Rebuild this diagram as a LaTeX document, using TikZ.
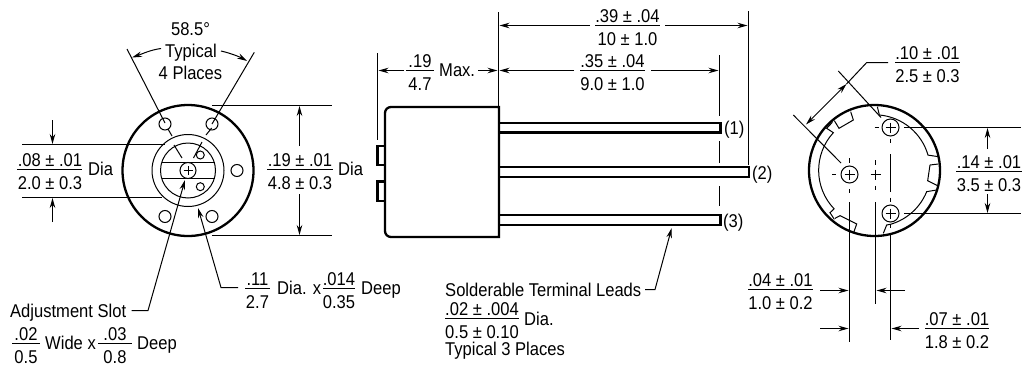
\documentclass[tikz,border=0pt]{standalone}
\usepackage{fontspec}
\setmainfont[FakeStretch=0.895]{Liberation Sans}
\usetikzlibrary{arrows.meta}
\tikzset{
  thinln/.style={line width=1pt,black},
  thickln/.style={line width=2.3pt,black},
  midln/.style={line width=1.1pt,black},
  dim/.style={thinln,-{Stealth[length=10pt,width=5.5pt]}},
  dimboth/.style={thinln,{Stealth[length=10pt,width=5.5pt]}-{Stealth[length=10pt,width=5.5pt]}},
  lab/.style={inner sep=0pt,anchor=base,font=\fontsize{18.5}{20}\selectfont},
  labl/.style={lab,anchor=base west}
}
\newcommand{\Frac}[7]{% name, cx, x1, x2, ruley, top, bottom
  \node[lab] (#1t) at (#2,#5-3.5) {#6};
  \node[lab] (#1b) at (#2,#5+19.5) {#7};
  \draw[midln] (#3,#5) -- (#4,#5);
}
\newcommand{\Plus}[3]{\draw[thinln] (#1-#3,#2) -- (#1+#3,#2) (#1,#2-#3) -- (#1,#2+#3);}
\begin{document}
\begin{tikzpicture}[x=1pt,y=-1pt]
\useasboundingbox (0,0) rectangle (1024,367);
%% ---------- left view
\coordinate (L) at (188,170.5);
\draw[thickln] (L) circle[radius=65.5];
\draw[thinln] (L) circle[radius=36];
\draw[thinln] (L) circle[radius=27.5];
\draw[thinln] (161.5,162.5) -- (214.5,162.5) (161.5,178.5) -- (214.5,178.5);
\draw[thinln,fill=white] (L) circle[radius=8];
\Plus{188}{170.5}{4.5}
\foreach \p/\q in {165/124,212/124,237/170.5,165/216.5,212/216.5}
  \draw[thinln] (\p,\q) circle[radius=6];
\draw[thinln] (200.3,155) circle[radius=4] (200.3,186.7) circle[radius=4];
% angle lines
\coordinate (aL1) at (127,49);
\coordinate (aL2) at (165,123);
\coordinate (aR1) at (254.3,52.3);
\coordinate (aR2) at (212,124);
\draw[thinln] (aL1) -- (aL2) (168,129) -- (172,136) (174,145) -- (182,158);
\draw[thinln] (aR1) -- (aR2) (211.7,128) -- (206,135) (202,142) -- (193.5,158);
\node[lab] (ang) at (190.5,35) {58.5°};
\node[lab] (typ) at (191,57.5) {Typical};
\node[lab] (pl4) at (190.5,79.5) {4 Places};
\coordinate (angL) at (132,57.5);
\coordinate (angR) at (247,61);
\draw[dim] (161,48.5) .. controls (150,50) and (142,54) .. (angL);
\draw[dim] (221,51) .. controls (230,53) and (240,57) .. (angR);
% .19 dia
\draw[midln] (212,105.5) -- (332,105.5) (212,235.5) -- (332,235.5);
\draw[dim] (299.5,146) -- (299.5,106);
\draw[dim] (299.5,194) -- (299.5,235);
\Frac{da}{300}{267}{333}{169.5}{.19 ± .01}{4.8 ± 0.3}
\node[labl] (dia1) at (338,175) {Dia};
% .08 dia
\draw[midln] (22,144.5) -- (165,144.5) (22,197.5) -- (162,197.5);
\draw[dim] (52.5,120) -- (52.5,144);
\draw[dim] (52.5,222) -- (52.5,198);
\Frac{db}{50}{17}{82}{169.5}{.08 ± .01}{2.0 ± 0.3}
\node[labl] (dia2) at (88,175) {Dia};
% adjustment slot
\node[labl] (adj) at (10,317) {Adjustment Slot};
\draw[dim] (131.5,310.5) -- (148,310.5) -- (185,180);
\Frac{dc}{26}{12}{40}{343.5}{.02}{0.5}
\node[labl] (wide) at (45,349) {Wide x};
\Frac{dd}{115}{98}{132}{343.5}{.03}{0.8}
\node[labl] (deep1) at (137,349) {Deep};
% .11 dia
\draw[dim] (238,287.5) -- (221,287.5) -- (198,208);
\Frac{de}{257.5}{245}{270}{288.5}{.11}{2.7}
\node[labl] (dia3) at (277,294.5) {Dia. x};
\Frac{df}{339}{323}{355}{288.5}{.014}{0.35}
\node[labl] (deep2) at (361,294.5) {Deep};
%% ---------- side view
\draw[thickln] (499,107) -- (391,107) arc[start angle=270,end angle=180,radius=6] -- (385,231) arc[start angle=180,end angle=90,radius=6] -- (499,237) -- cycle;
\draw[thickln] (385,146) -- (377.5,146) -- (377.5,165) -- (385,165);
\draw[thickln] (385,181.5) -- (377.5,181.5) -- (377.5,201) -- (385,201);
\draw[thickln] (499,123) -- (720.5,123) -- (720.5,132.4) -- (499,132.4);
\draw[thickln] (499,167.3) -- (749,167.3) -- (749,177) -- (499,177);
\draw[thickln] (499,215.3) -- (720.5,215.3) -- (720.5,224.7) -- (499,224.7);
\node[labl] (t1) at (724,134) {(1)};
\node[labl] (t2) at (752,179) {(2)};
\node[labl] (t3) at (723,227) {(3)};
\draw[thinln] (498.5,12) -- (498.5,107);
\draw[thinln] (377.5,53) -- (377.5,140);
\draw[thinln] (748.5,11) -- (748.5,165);
\draw[thinln] (719.5,55) -- (719.5,116) (719.5,141) -- (719.5,163) (719.5,186) -- (719.5,206);
\Frac{dg}{627.5}{595}{660}{25.5}{.39 ± .04}{10 ± 1.0}
\draw[dim] (590,25.5) -- (499.5,25.5);
\draw[dim] (665,25.5) -- (747.5,25.5);
\Frac{dh}{612.5}{580}{645}{70.5}{.35 ± .04}{9.0 ± 1.0}
\draw[dim] (574,70.5) -- (499.5,70.5);
\draw[dim] (651,70.5) -- (718.5,70.5);
\Frac{di}{420}{406}{434}{70.5}{.19}{4.7}
\node[labl] (max) at (439,76.5) {Max.};
\draw[dim] (404,70.5) -- (378.5,70.5);
\draw[dim] (478,70.5) -- (497.5,70.5);
\node[labl] (sold) at (445,296) {Solderable Terminal Leads};
\draw[dim] (645,289.5) -- (655,289.5) -- (671.7,228);
\Frac{dj}{482}{445}{519}{318.5}{.02 ± .004}{0.5 ± 0.10}
\node[labl] (dia4) at (524,325) {Dia.};
\node[labl] (typ3) at (445,355.5) {Typical 3 Places};
%% ---------- right view
\coordinate (R) at (874.5,170.5);
\draw[thickln] (R) circle[radius=65.5];
\begin{scope}[shift={(790,90)},scale=0.33333]
\draw[thinln] (127,97) -- (110,115) -- (130,128) arc[start angle=222.6,end angle=136.2,radius=167] -- (120,368) -- (133,388);
\draw[thinln] (133,92) -- (147,115) -- (190,90) -- (182,65);
\draw[thinln] (135,385) -- (150,377) -- (200,402) -- (192,425);
\draw[thinln] (262,50) -- (268,75) arc[start angle=-85,end angle=-16,radius=167] -- (445,200);
\draw[thinln] (445,222) -- (420,225) -- (413,272) -- (443,287);
\draw[thinln] (440,300) -- (410,305) arc[start angle=22,end angle=73.6,radius=167] -- (290,405) -- (280,430);
\end{scope}
\foreach \n/\p/\q in {tA/890.5/127.5,tB/849.5/174.5,tC/890.5/213.5}{
  \draw[thinln,fill=white] (\p,\q) circle[radius=8.5];
  \Plus{\p}{\q}{5}
}
\Plus{875.5}{174.5}{5}
\draw[midln] (874.5,127.5) -- (878.5,127.5) (832,174.5) -- (836,174.5);
\draw[thinln] (849.5,158) -- (849.5,163) (849.5,189) -- (849.5,193) (849.5,202) -- (849.5,342);
\draw[thinln] (875.5,160) -- (875.5,165) (875.5,185.7) -- (875.5,190) (875.5,202.3) -- (875.5,304);
\draw[thinln] (890.5,139) -- (890.5,143) (890.5,154.3) -- (890.5,191.7) (890.5,197.7) -- (890.5,201.7) (890.5,224) -- (890.5,228) (890.5,233) -- (890.5,340);
% .10
\draw[thinln] (838.3,71) -- (881,117.5);
\draw[thinln] (793.3,115) -- (841,163);
\coordinate (p10a) at (806,124.5);
\coordinate (p10b) at (846.5,84);
\draw[dimboth] (p10a) -- (p10b);
\draw[thinln] (p10b) -- (866.7,62.5) -- (888,62.5);
\Frac{dk}{927.5}{895}{960}{62.5}{.10 ± .01}{2.5 ± 0.3}
% .14
\draw[midln] (904,127.5) -- (1021,127.5) (904,213.5) -- (1021,213.5);
\draw[dim] (987.5,149) -- (987.5,128);
\draw[dim] (987.5,194) -- (987.5,213);
\Frac{dl}{989}{956}{1022}{171.5}{.14 ± .01}{3.5 ± 0.3}
% .04 / .07
\Frac{dm}{780.5}{748}{813}{289.5}{.04 ± .01}{1.0 ± 0.2}
\draw[dim] (820,290.5) -- (848.5,290.5);
\draw[dim] (905,290.5) -- (876.5,290.5);
\draw[dim] (820,328.5) -- (848.5,328.5);
\draw[dim] (919,328.5) -- (891.5,328.5);
\Frac{dn}{957}{925}{989}{328.5}{.07 ± .01}{1.8 ± 0.2}
\end{tikzpicture}
\end{document}
